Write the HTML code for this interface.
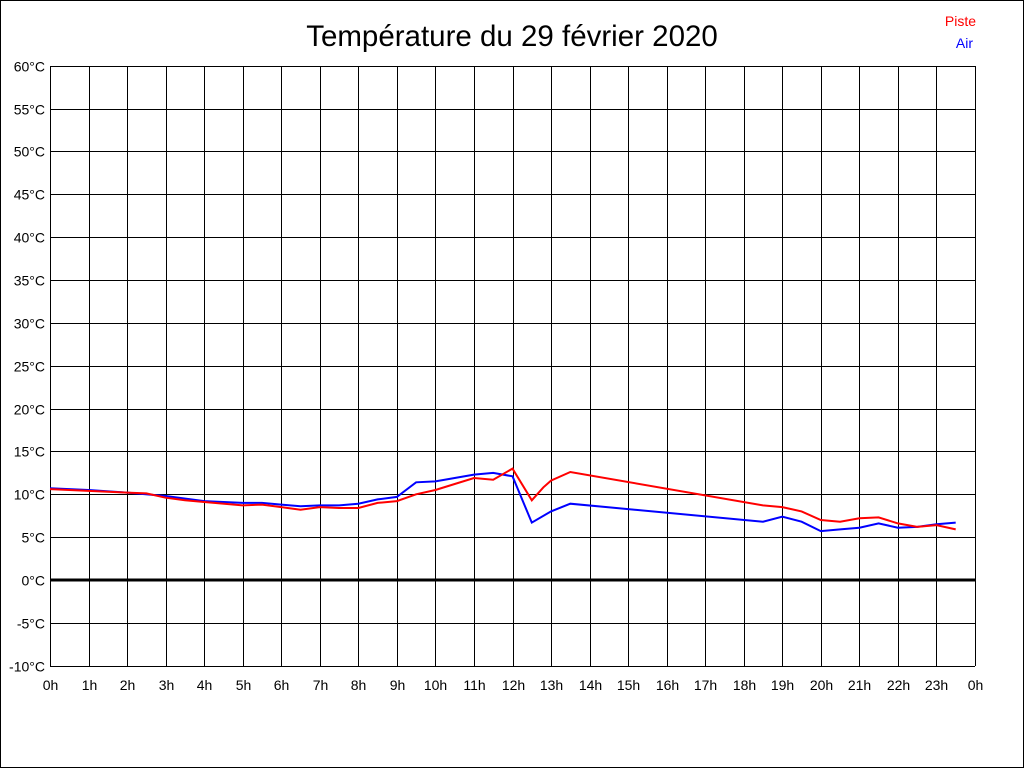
<!DOCTYPE html>
<html><head><meta charset="utf-8"><style>
html,body{margin:0;padding:0;background:#fff;}
svg{display:block;font-family:"Liberation Sans",sans-serif;}
</style></head><body>
<svg id="s" width="1024" height="768" xmlns="http://www.w3.org/2000/svg">
<rect x="0.5" y="0.5" width="1023" height="767" fill="#fff" stroke="#000" stroke-width="1"/>
<text x="512" y="46" font-size="29.5" text-anchor="middle">Température du 29 février 2020</text>
<text x="976" y="26" font-size="14" fill="#ff0000" text-anchor="end">Piste</text>
<text x="973" y="48" font-size="14" fill="#0000ff" text-anchor="end">Air</text>
<g id="grid"></g>
<g id="lines"></g>
</svg>
<script>
var ns="http://www.w3.org/2000/svg",g=document.getElementById('grid'),L=document.getElementById('lines');
function X(h){return 50+h*925/24;}function Y(t){return 580-t*600/70;}
function el(p,n,a,t){var e=document.createElementNS(ns,n);for(var k in a)e.setAttribute(k,a[k]);if(t!=null)e.textContent=t;p.appendChild(e);return e;}
for(var t=-10;t<=60;t+=5){var y=Math.round(Y(t))+0.5;el(g,'line',{x1:50,x2:975,y1:y,y2:y,stroke:'#000','stroke-width':1});
el(g,'text',{x:45,y:y+5,'font-size':14,'text-anchor':'end'},t+'°C');}
for(var h=0;h<=24;h++){var x=Math.round(X(h))+0.5;el(g,'line',{x1:x,x2:x,y1:66,y2:666,stroke:'#000','stroke-width':1});
el(g,'text',{x:x,y:690,'font-size':14,'text-anchor':'middle'},(h%24)+'h');}
el(g,'line',{x1:50,x2:975,y1:580,y2:580,stroke:'#000','stroke-width':3});
var red=[[0,10.6],[1,10.4],[2,10.2],[2.5,10.1],[3,9.6],[3.5,9.3],[4,9.1],[5,8.7],[5.5,8.8],[6,8.5],[6.5,8.2],[7,8.5],[7.5,8.4],[8,8.4],[8.5,9.0],[9,9.2],[9.5,10.0],[10,10.5],[10.5,11.2],[11,11.9],[11.5,11.7],[12,13.0],[12.5,9.3],[12.8,10.8],[13,11.6],[13.5,12.6],[18.5,8.7],[19,8.5],[19.5,8.0],[20,7.0],[20.5,6.8],[21,7.2],[21.5,7.3],[22,6.6],[22.5,6.2],[23,6.4],[23.5,5.9]];
var blue=[[0,10.7],[1,10.5],[2,10.2],[3,9.8],[4,9.2],[5,9.0],[5.5,9.0],[6,8.8],[6.5,8.6],[7,8.7],[7.5,8.7],[8,8.9],[8.5,9.4],[9,9.7],[9.5,11.4],[10,11.5],[10.5,11.9],[11,12.3],[11.5,12.5],[12,12.1],[12.5,6.7],[13,8.0],[13.5,8.9],[18.5,6.8],[19,7.4],[19.5,6.8],[20,5.7],[20.5,5.9],[21,6.1],[21.5,6.6],[22,6.1],[22.5,6.2],[23,6.5],[23.5,6.7]];
function pl(d,c){el(L,'polyline',{points:d.map(function(p){return X(p[0]).toFixed(1)+','+Y(p[1]).toFixed(1)}).join(' '),fill:'none',stroke:c,'stroke-width':2});}
pl(blue,'#0000ff');pl(red,'#ff0000');
</script>
</body></html>
